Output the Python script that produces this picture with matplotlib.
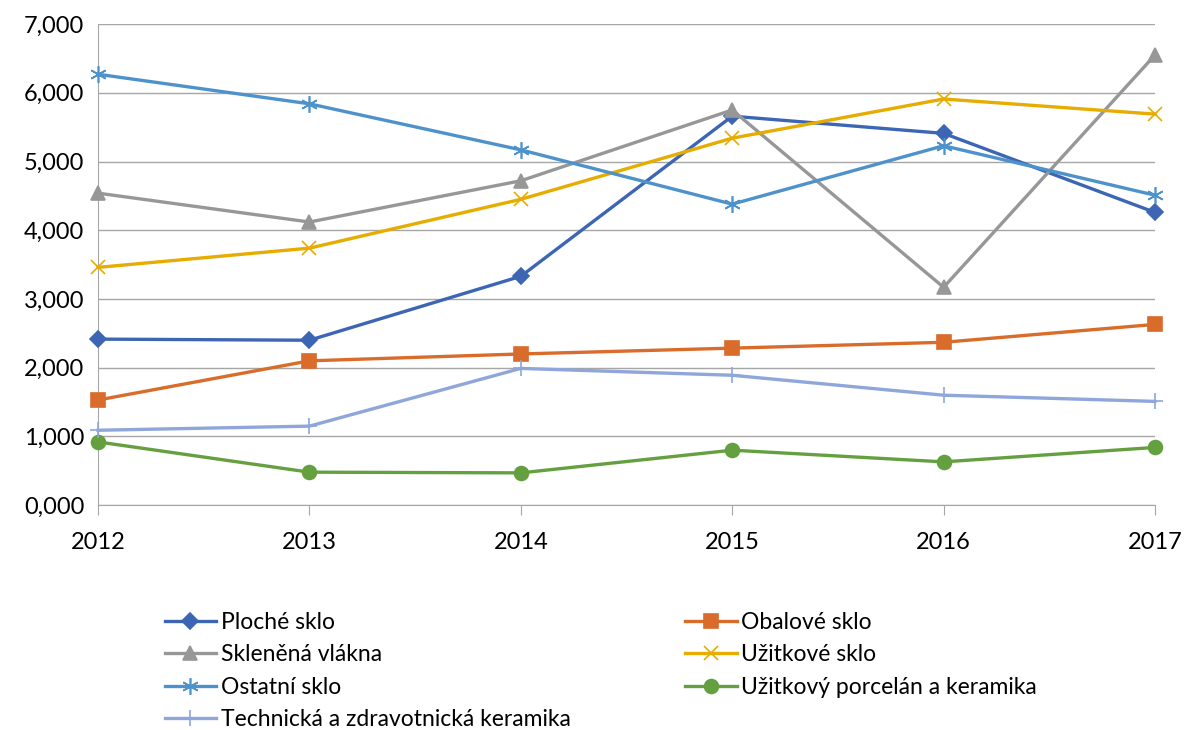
import matplotlib.pyplot as plt
from matplotlib.ticker import FuncFormatter

plt.rcParams['font.family'] = ['Lato', 'DejaVu Sans']

# Data
years = [2012, 2013, 2014, 2015, 2016, 2017]
ploche_sklo = [2.416, 2.40, 3.33, 5.66, 5.41, 4.26]
obalove_sklo = [1.53, 2.10, 2.20, 2.285, 2.37, 2.63]
sklenena_vlakna = [4.54, 4.12, 4.72, 5.75, 3.17, 6.55]
uzitkove_sklo = [3.46, 3.74, 4.45, 5.34, 5.91, 5.69]
ostatni_sklo = [6.27, 5.84, 5.17, 4.38, 5.23, 4.51]
porcelan = [0.92, 0.48, 0.47, 0.80, 0.63, 0.84]
technicka = [1.09, 1.15, 1.99, 1.89, 1.60, 1.51]

series = [
    ("Ploché sklo", ploche_sklo, "#3C66B4", "D", 8),
    ("Obalové sklo", obalove_sklo, "#D96C2B", "s", 10),
    ("Skleněná vlákna", sklenena_vlakna, "#979797", "^", 10),
    ("Užitkové sklo", uzitkove_sklo, "#E6AD00", "x", 10),
    ("Ostatní sklo", ostatni_sklo, "#4E92CC", (6, 2, 0), 12),
    ("Užitkový porcelán a keramika", porcelan, "#64A03F", "o", 10),
    ("Technická a zdravotnická keramika", technicka, "#8EA6DA", "+", 11),
]

fig = plt.figure(figsize=(11.84, 7.30), dpi=100)
ax = fig.add_axes([0.0828, 0.308, 0.8927, 0.659])

lines = {}
for name, vals, color, marker, ms in series:
    ln, = ax.plot(years, vals, color=color, linewidth=2.4, marker=marker, markersize=ms,
                  markeredgewidth=1.2, label=name, clip_on=False, zorder=3)
    lines[name] = ln

ax.set_xlim(2012, 2017)
ax.set_ylim(0, 7)
ax.set_yticks(range(0, 8))
ax.yaxis.set_major_formatter(FuncFormatter(lambda v, p: f"{v:.3f}".replace('.', ',')))
ax.set_xticks(years)

ax.grid(axis='y', color='#A6A6A6', linewidth=1.0)
ax.set_axisbelow(True)
for s in ['top', 'right']:
    ax.spines[s].set_visible(False)
ax.spines['left'].set_color('#A6A6A6')
ax.spines['bottom'].set_color('#A6A6A6')
ax.tick_params(axis='y', length=0, pad=10, labelsize=17)
ax.tick_params(axis='x', length=7, color='#A6A6A6', pad=12, labelsize=17)

# legend filled row by row like the original
order = [0, 2, 4, 6, 1, 3, 5]
names = [series[i][0] for i in order]
ax.legend([lines[n] for n in names], names, loc='upper left',
          bbox_to_anchor=(0.063, -0.222), ncol=2, frameon=False,
          fontsize=16.5, handlelength=2.25, handletextpad=0.2, columnspacing=5.0,
          labelspacing=0.5, borderaxespad=0, borderpad=0)

plt.savefig("out.png", dpi=100)
